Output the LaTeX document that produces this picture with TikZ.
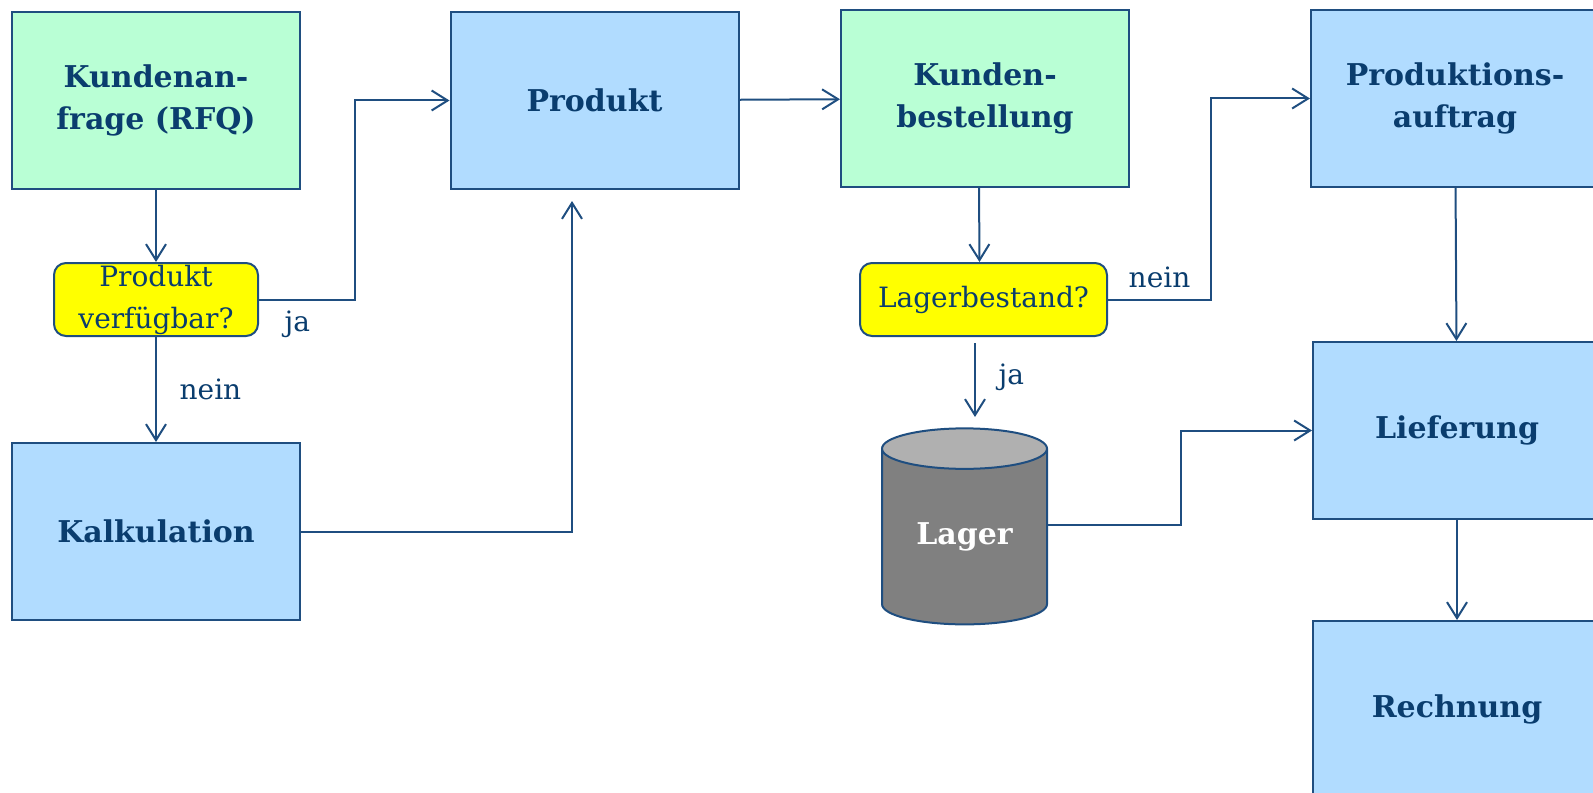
\documentclass[tikz,border=0pt]{standalone}
\usepackage{fontspec}
\setmainfont{DejaVu Serif}
\usetikzlibrary{arrows.meta,shapes.geometric}

\definecolor{linecol}{HTML}{1F4E80}
\definecolor{txtcol}{HTML}{0A3D6E}
\definecolor{greenfill}{HTML}{B9FFD5}
\definecolor{bluefill}{HTML}{B1DCFF}
\definecolor{askfill}{HTML}{FFFF00}
\definecolor{drumbody}{HTML}{808080}
\definecolor{drumtop}{HTML}{B0B0B0}

\tikzset{
  stepbox/.style={draw=linecol, line width=1pt, minimum width=144pt, minimum height=88.5pt,
    inner sep=0pt, align=center, text=txtcol, font=\fontsize{15}{21}\selectfont\bfseries},
  greenbox/.style={stepbox, fill=greenfill},
  bluebox/.style={stepbox, fill=bluefill},
  askbox/.style={draw=linecol, line width=1pt, fill=askfill, rounded corners=6pt,
    minimum height=36.5pt, inner sep=0pt, align=center, text=txtcol,
    font=\fontsize{14}{21}\selectfont},
  storebox/.style={cylinder, shape border rotate=90, draw=linecol, line width=1pt,
    cylinder uses custom fill, cylinder body fill=drumbody, cylinder end fill=drumtop,
    minimum width=82.5pt, minimum height=98pt, aspect=0.42, inner sep=0pt,
    text=white, font=\fontsize{15}{21}\selectfont\bfseries},
  arr/.style={draw=linecol, line width=1pt, -{Straight Barb[length=8pt,width=10pt]}},
  lbl/.style={text=txtcol, font=\fontsize{14}{18}\selectfont}
}

\begin{document}
\begin{tikzpicture}[x=0.5pt,y=-0.5pt]
  \useasboundingbox (0,0) rectangle (1593,792);

  \node[greenbox] (req) at (156,100.5) {Kundenan-\\frage (RFQ)};
  \node[askbox, minimum width=102pt] (q1) at (156,299.5) {Produkt\\verfügbar?};
  \node[bluebox] (calc) at (156,531.5) {Kalkulation};
  \node[bluebox] (prod) at (594.5,100.5) {Produkt};
  \coordinate (prodin) at (572,201);

  \node[greenbox] (order) at (985,98.5) {Kunden-\\bestellung};
  \node[askbox, minimum width=123.5pt] (q2) at (983.5,299.5) {Lagerbestand?};
  \node[storebox] (lager) at (964.5,537) {\raisebox{-8pt}{Lager}};
  \coordinate (stockin) at (975,417);

  \node[bluebox] (pa) at (1455,98.5) {Produktions-\\auftrag};
  \node[bluebox] (lief) at (1457,430.5) {Lieferung};
  \node[bluebox] (rech) at (1457,709.5) {Rechnung};

  % Anfrage
  \draw[arr] (req) -- (q1);
  \draw[arr] (q1) -- node[lbl, right=8pt] {nein} (calc);
  \draw[arr] (q1.east) -- node[lbl, pos=0.4, below=2pt] {ja} ++(96,0) |- (prod);
  \draw[arr] (calc.east) -| (prodin);

  % Bestellung
  \draw[arr] (prod) -- (order);
  \draw[arr] ([xshift=-3pt]order.south) -- ([xshift=-2pt]q2.north);
  \draw[arr] (q2.east) -- node[lbl, above=2pt] {nein} ++(103,0) |- (pa);
  \draw[arr, shorten <=3pt] (q2.south -| stockin) -- node[lbl, right=8pt] {ja} (stockin);
  \draw[arr] ([yshift=6pt]lager.east) -- ++(133,0) |- (lief);

  % Auftrag
  \draw[arr] (pa) -- (lief);
  \draw[arr] (lief) -- (rech);
\end{tikzpicture}
\end{document}
